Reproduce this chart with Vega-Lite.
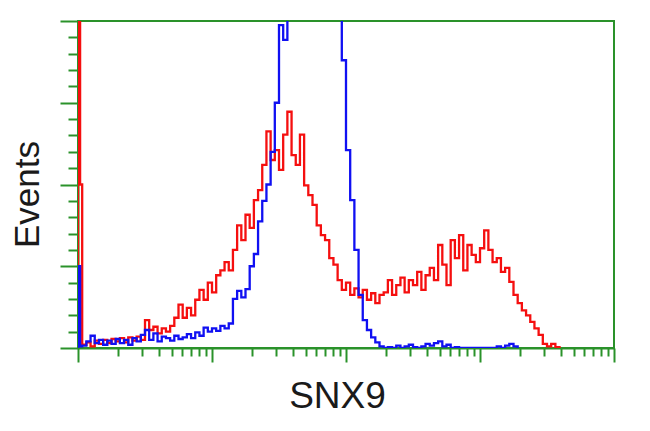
{
  "$schema": "https://vega.github.io/schema/vega-lite/v6.json",
  "width": 536,
  "height": 327,
  "autosize": {"type": "none"},
  "padding": {"left": 78, "top": 21, "right": 36, "bottom": 83},
  "background": "white",
  "config": {
    "view": {"stroke": "#2a922a", "strokeWidth": 2},
    "axis": {
      "domainColor": "#2a922a", "domainWidth": 2,
      "tickColor": "#2a922a", "tickWidth": 2,
      "labels": false, "grid": false,
      "titleFont": "Liberation Sans", "titleFontSize": 35, "titleFontWeight": "normal", "titleColor": "#1a1a1a"
    }
  },
  "datasets": {
    "overexpression": [
      {"ch":0,"count":0},{"ch":0,"count":450},{"ch":1,"count":200},{"ch":2,"count":4},{"ch":4,"count":7},{"ch":6,"count":2},{"ch":8,"count":9},{"ch":10,"count":5},{"ch":12,"count":10},{"ch":14,"count":6},{"ch":16,"count":11},{"ch":18,"count":8},{"ch":20,"count":12},{"ch":22,"count":7},{"ch":24,"count":13},{"ch":26,"count":9},{"ch":28,"count":14},{"ch":30,"count":10},{"ch":32,"count":34},{"ch":34,"count":22},{"ch":36,"count":26},{"ch":38,"count":18},{"ch":40,"count":24},{"ch":42,"count":20},{"ch":44,"count":27},{"ch":46,"count":37},{"ch":48,"count":53},{"ch":50,"count":37},{"ch":52,"count":49},{"ch":54,"count":40},{"ch":56,"count":59},{"ch":58,"count":71},{"ch":60,"count":59},{"ch":62,"count":80},{"ch":64,"count":68},{"ch":66,"count":89},{"ch":68,"count":95},{"ch":70,"count":105},{"ch":72,"count":95},{"ch":74,"count":120},{"ch":76,"count":150},{"ch":78,"count":132},{"ch":80,"count":163},{"ch":82,"count":147},{"ch":84,"count":181},{"ch":86,"count":193},{"ch":88,"count":224},{"ch":90,"count":265},{"ch":92,"count":230},{"ch":94,"count":242},{"ch":96,"count":218},{"ch":98,"count":261},{"ch":100,"count":289},{"ch":102,"count":236},{"ch":104,"count":224},{"ch":106,"count":261},{"ch":108,"count":199},{"ch":110,"count":187},{"ch":112,"count":175},{"ch":114,"count":150},{"ch":116,"count":138},{"ch":118,"count":132},{"ch":120,"count":110},{"ch":122,"count":102},{"ch":124,"count":83},{"ch":126,"count":71},{"ch":128,"count":80},{"ch":130,"count":65},{"ch":132,"count":73},{"ch":134,"count":62},{"ch":136,"count":71},{"ch":138,"count":59},{"ch":140,"count":67},{"ch":142,"count":55},{"ch":144,"count":65},{"ch":146,"count":68},{"ch":148,"count":83},{"ch":150,"count":65},{"ch":152,"count":77},{"ch":154,"count":86},{"ch":156,"count":68},{"ch":158,"count":83},{"ch":160,"count":77},{"ch":162,"count":93},{"ch":164,"count":71},{"ch":166,"count":89},{"ch":168,"count":98},{"ch":170,"count":83},{"ch":172,"count":126},{"ch":174,"count":102},{"ch":176,"count":77},{"ch":178,"count":132},{"ch":180,"count":110},{"ch":182,"count":138},{"ch":184,"count":95},{"ch":186,"count":126},{"ch":188,"count":114},{"ch":190,"count":105},{"ch":192,"count":122},{"ch":194,"count":144},{"ch":196,"count":120},{"ch":198,"count":105},{"ch":200,"count":110},{"ch":202,"count":93},{"ch":204,"count":98},{"ch":206,"count":81},{"ch":208,"count":65},{"ch":210,"count":55},{"ch":212,"count":46},{"ch":214,"count":40},{"ch":216,"count":32},{"ch":218,"count":24},{"ch":220,"count":16},{"ch":222,"count":5},{"ch":224,"count":2},{"ch":226,"count":5},{"ch":228,"count":1},{"ch":230,"count":0}
    ],
    "control": [
      {"ch":0,"count":0},{"ch":0,"count":100},{"ch":1,"count":2},{"ch":2,"count":3},{"ch":4,"count":8},{"ch":6,"count":15},{"ch":8,"count":6},{"ch":10,"count":10},{"ch":12,"count":4},{"ch":14,"count":9},{"ch":16,"count":5},{"ch":18,"count":11},{"ch":20,"count":6},{"ch":22,"count":10},{"ch":24,"count":4},{"ch":26,"count":12},{"ch":28,"count":8},{"ch":30,"count":16},{"ch":32,"count":22},{"ch":34,"count":10},{"ch":36,"count":18},{"ch":38,"count":8},{"ch":40,"count":14},{"ch":42,"count":12},{"ch":44,"count":9},{"ch":46,"count":15},{"ch":48,"count":11},{"ch":50,"count":13},{"ch":52,"count":17},{"ch":54,"count":12},{"ch":56,"count":19},{"ch":58,"count":15},{"ch":60,"count":25},{"ch":62,"count":20},{"ch":64,"count":24},{"ch":66,"count":21},{"ch":68,"count":27},{"ch":70,"count":24},{"ch":72,"count":30},{"ch":74,"count":60},{"ch":76,"count":70},{"ch":78,"count":62},{"ch":80,"count":72},{"ch":82,"count":100},{"ch":84,"count":115},{"ch":86,"count":155},{"ch":88,"count":180},{"ch":90,"count":200},{"ch":92,"count":240},{"ch":94,"count":300},{"ch":96,"count":395},{"ch":98,"count":377},{"ch":100,"count":480},{"ch":102,"count":520},{"ch":104,"count":560},{"ch":106,"count":600},{"ch":108,"count":620},{"ch":110,"count":640},{"ch":112,"count":610},{"ch":114,"count":580},{"ch":116,"count":560},{"ch":118,"count":520},{"ch":120,"count":500},{"ch":122,"count":470},{"ch":124,"count":450},{"ch":126,"count":352},{"ch":128,"count":242},{"ch":130,"count":181},{"ch":132,"count":120},{"ch":134,"count":65},{"ch":136,"count":34},{"ch":138,"count":22},{"ch":140,"count":13},{"ch":142,"count":7},{"ch":144,"count":2},{"ch":146,"count":0},{"ch":148,"count":1},{"ch":150,"count":0},{"ch":152,"count":3},{"ch":154,"count":0},{"ch":156,"count":2},{"ch":158,"count":4},{"ch":160,"count":1},{"ch":162,"count":0},{"ch":164,"count":2},{"ch":166,"count":5},{"ch":168,"count":3},{"ch":170,"count":6},{"ch":172,"count":8},{"ch":174,"count":2},{"ch":176,"count":4},{"ch":178,"count":0},{"ch":180,"count":1},{"ch":182,"count":0},{"ch":200,"count":2},{"ch":202,"count":0},{"ch":204,"count":3},{"ch":206,"count":5},{"ch":208,"count":2},{"ch":210,"count":0}
    ]
  },
  "encoding": {
    "x": {
      "field": "ch", "type": "quantitative",
      "scale": {"domain": [0, 256], "nice": false, "zero": false},
      "axis": {
        "title": "SNX9",
        "values": [0,19.27,30.54,38.53,44.74,49.8,54.09,57.8,61.07,64,83.27,94.54,102.53,108.74,113.8,118.09,121.8,125.07,128,147.27,158.54,166.53,172.74,177.8,182.09,185.8,189.07,192,211.27,222.54,230.53,236.74,241.8,246.09,249.8,253.07,256],
        "tickSize": {"condition": {"test": "datum.value % 64 === 0", "value": 14}, "value": 8},
        "titleFontSize": 37,
        "titleX": 259, "titleY": 59, "titleBaseline": "alphabetic", "titleAlign": "center"
      }
    },
    "y": {
      "field": "count", "type": "quantitative",
      "scale": {"domain": [0, 400], "nice": false},
      "axis": {
        "title": "Events",
        "values": [0,20,40,60,80,100,120,140,160,180,200,220,240,260,280,300,320,340,360,380,400],
        "tickSize": {"condition": {"test": "datum.value % 100 === 0", "value": 18}, "value": 10},
        "titleX": -40, "titleY": 173, "titleBaseline": "alphabetic", "titleAlign": "center", "titleAngle": -90
      }
    }
  },
  "layer": [
    {
      "data": {"name": "overexpression"},
      "mark": {"type": "line", "interpolate": "step-after", "color": "#f50f0f", "strokeWidth": 2.3, "clip": true}
    },
    {
      "data": {"name": "control"},
      "mark": {"type": "line", "interpolate": "step-after", "color": "#1010f2", "strokeWidth": 2.3, "clip": true}
    }
  ]
}
